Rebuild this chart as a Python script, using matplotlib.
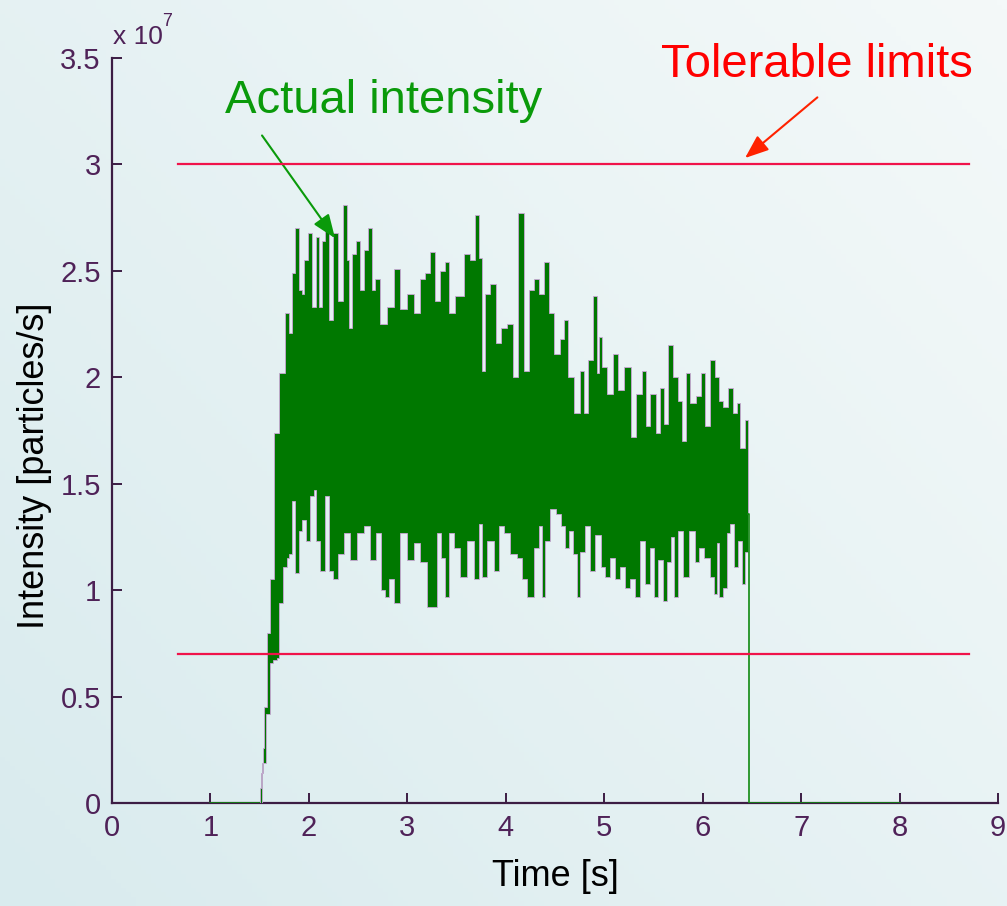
import numpy as np
import matplotlib
matplotlib.use("Agg")
import matplotlib.pyplot as plt

# intensity envelope (units of 1e7 particles/s)
t_hi = [1.494, 1.504, 1.521, 1.538, 1.555, 1.589, 1.623, 1.667, 1.728, 1.778,
        1.809, 1.839,
        1.880, 1.911, 1.941, 1.961, 2.012, 2.053, 2.083, 2.114, 2.144, 2.185,
        2.215, 2.266, 2.317, 2.368, 2.398, 2.419, 2.449, 2.500, 2.541, 2.571,
        2.622, 2.652, 2.693, 2.754, 2.825, 2.896, 2.957, 3.028, 3.100, 3.150,
        3.201, 3.252, 3.303, 3.354, 3.404, 3.435, 3.537, 3.608, 3.669, 3.709,
        3.740, 3.770, 3.811, 3.872, 3.923, 3.974, 4.045, 4.096, 4.146, 4.217,
        4.248, 4.319, 4.350, 4.421, 4.451, 4.522, 4.573, 4.604, 4.654, 4.726,
        4.776, 4.807, 4.858, 4.909, 4.939, 4.959, 4.990, 5.061, 5.112, 5.163,
        5.244, 5.295, 5.346, 5.417, 5.437, 5.498, 5.549, 5.589, 5.620, 5.681,
        5.722, 5.772, 5.813, 5.843, 5.904, 5.955, 6.006, 6.037, 6.108, 6.148,
        6.179, 6.230, 6.280, 6.331, 6.362, 6.402, 6.453, 6.465]
v_hi = [0, 0.07, 0.14, 0.26, 0.45, 0.80, 1.05, 1.74, 2.02, 2.30,
        2.21, 2.49,
        2.70, 2.41, 2.39, 2.55, 2.68, 2.33, 2.66, 2.33, 2.64, 2.69,
        2.27, 2.68, 2.36, 2.81, 2.55, 2.23, 2.58, 2.64, 2.41, 2.60,
        2.70, 2.41, 2.46, 2.25, 2.33, 2.51, 2.32, 2.39, 2.30, 2.46,
        2.49, 2.59, 2.36, 2.50, 2.54, 2.30, 2.38, 2.58, 2.55, 2.76,
        2.56, 2.03, 2.39, 2.44, 2.16, 2.23, 2.25, 2.00, 2.77, 2.03,
        2.41, 2.46, 2.39, 2.54, 2.30, 2.11, 2.18, 2.27, 2.00, 1.83,
        2.03, 1.83, 2.08, 2.38, 2.02, 2.19, 2.05, 1.92, 2.11, 1.94,
        2.05, 1.72, 1.92, 2.03, 1.77, 1.92, 1.74, 1.95, 1.78, 2.15,
        2.00, 1.89, 1.70, 2.02, 1.88, 1.91, 2.02, 1.77, 2.08, 2.00,
        1.89, 1.86, 1.95, 1.83, 1.88, 1.67, 1.80, 1.36]

t_lo = [1.504, 1.545, 1.589, 1.623, 1.657, 1.691,
        1.707, 1.758, 1.789, 1.809, 1.839,
        1.880, 1.911, 1.941, 1.992, 2.033, 2.063, 2.083, 2.134, 2.185, 2.215,
        2.266, 2.317, 2.388, 2.449, 2.520, 2.591, 2.652, 2.703, 2.754, 2.795,
        2.825, 2.896, 2.957, 3.028, 3.100, 3.161, 3.232, 3.283, 3.313, 3.364,
        3.404, 3.435, 3.506, 3.567, 3.638, 3.709, 3.740, 3.770, 3.841, 3.913,
        3.943, 4.014, 4.075, 4.146, 4.177, 4.248, 4.319, 4.350, 4.380, 4.421,
        4.482, 4.532, 4.583, 4.624, 4.654, 4.705, 4.736, 4.776, 4.827, 4.878,
        4.939, 4.990, 5.030, 5.081, 5.132, 5.183, 5.234, 5.285, 5.335, 5.386,
        5.437, 5.488, 5.518, 5.569, 5.620, 5.650, 5.701, 5.722, 5.772, 5.823,
        5.894, 5.945, 5.976, 6.047, 6.108, 6.128, 6.159, 6.179, 6.230, 6.260,
        6.301, 6.331, 6.382, 6.413, 6.453, 6.465]
v_lo = [0, 0.19, 0.42, 0.66, 0.67, 0.68,
        0.94, 1.11, 1.15, 1.17, 1.42,
        1.08, 1.28, 1.33, 1.23, 1.44, 1.47, 1.23, 1.09, 1.44, 1.09,
        1.05, 1.17, 1.27, 1.14, 1.27, 1.30, 1.14, 1.27, 1.00, 0.97,
        1.05, 0.94, 1.27, 1.14, 1.22, 1.13, 0.92, 0.92, 1.27, 1.15,
        0.97, 1.27, 1.20, 1.06, 1.23, 1.05, 1.31, 1.06, 1.23, 1.09,
        1.30, 1.27, 1.17, 1.15, 1.05, 0.97, 1.20, 1.30, 0.97, 1.23,
        1.38, 1.36, 1.30, 1.20, 1.28, 1.17, 0.97, 1.18, 1.30, 1.09,
        1.26, 1.11, 1.06, 1.15, 1.05, 1.11, 1.01, 1.05, 0.97, 1.23,
        1.03, 1.20, 0.97, 1.14, 0.95, 1.13, 1.25, 0.97, 1.28, 1.06,
        1.28, 1.13, 1.20, 1.15, 1.06, 0.98, 1.22, 0.97, 1.01, 1.27,
        1.31, 1.11, 1.23, 1.03, 1.18, 1.36]

# flat parts of the signal before and after the beam
t_before = [1.0, 1.494]
v_before = [0, 0]
t_after = [6.465, 6.47, 6.47, 8.0]
v_after = [1.36, 1.36, 0, 0]

limit_t = [0.67, 8.71]
limit_low = 0.7
limit_high = 3.0

xticks = list(range(0, 10))
yticks = [0, 0.5, 1, 1.5, 2, 2.5, 3, 3.5]
ytick_labels = ["0", "0.5", "1", "1.5", "2", "2.5", "3", "3.5"]


def steps(t, v):
    t = np.asarray(t, dtype=float)
    v = np.asarray(v, dtype=float)
    mid = (t[1:] + t[:-1]) / 2
    edges = np.concatenate([[t[0]], mid, [t[-1]]])
    xs = np.repeat(edges, 2)[1:-1]
    ys = np.repeat(v, 2)
    return xs, ys


W, H = 1007, 906
fig = plt.figure(figsize=(W / 100, H / 100), dpi=100)

# light bluish gradient background
bg = fig.add_axes([0, 0, 1, 1], zorder=-10)
gx, gy = np.meshgrid(np.linspace(0, 1, 200), np.linspace(0, 1, 200))
grad = 0.55 * gx + 0.45 * (1 - gy)
cmap = matplotlib.colors.LinearSegmentedColormap.from_list("bg", ["#d9ebee", "#f4f9f9"])
bg.imshow(grad, cmap=cmap, aspect="auto", extent=[0, 1, 0, 1], origin="upper")
bg.axis("off")

ax = fig.add_axes([0.1112, 0.1137, 0.8799, 0.8223])
ax.set_facecolor("none")

purple = "#3c1d44"
tickc = "#4f2258"
tickfont = ["Liberation Sans Narrow", "Liberation Sans"]

xu, yu = steps(t_hi, v_hi)
xl, yl = steps(t_lo, v_lo)
ax.fill(np.concatenate([xu, xl[::-1]]), np.concatenate([yu, yl[::-1]]),
        facecolor="#007800", edgecolor="#c9a6d6", linewidth=0.6, zorder=3)
ax.plot(t_before, v_before, color="#108a10", lw=1.2, zorder=3)
ax.plot(t_after, v_after, color="#108a10", lw=1.2, zorder=3)

ax.plot(limit_t, [limit_high, limit_high], color="#f0134a", lw=1.6, zorder=4)
ax.plot(limit_t, [limit_low, limit_low], color="#f0134a", lw=1.6, zorder=4)

ax.set_xlim(0, 9)
ax.set_ylim(0, 3.5)
ax.set_xticks(xticks)
ax.set_yticks(yticks)
ax.set_yticklabels(ytick_labels)
for s in ["top", "right"]:
    ax.spines[s].set_visible(False)
for s in ["left", "bottom"]:
    ax.spines[s].set_color(purple)
    ax.spines[s].set_linewidth(1.6)
ax.tick_params(direction="in", length=7, width=1.4, color=purple,
               labelcolor=tickc, labelsize=21, pad=8)
for lab in ax.get_xticklabels() + ax.get_yticklabels():
    lab.set_family(tickfont)

# exponent label above the y axis
fig.text(113 / W, 1 - 44 / H, "x 10", color=tickc, fontsize=19, family=tickfont,
         ha="left", va="baseline")
fig.text(162 / W, 1 - 26 / H, "7", color=tickc, fontsize=13, family=tickfont,
         ha="left", va="baseline")

ax.set_xlabel("Time [s]", fontsize=26, family="Liberation Sans", labelpad=12)
ax.set_ylabel("Intensity [particles/s]", fontsize=26, family="Liberation Sans")
ax.yaxis.set_label_coords(-0.068, 0.452)

ax.text(1.148, 3.30, "Actual intensity", color="#0a9a0a", fontsize=34,
        family="Liberation Sans", ha="left", va="center", clip_on=False)
ax.text(8.74, 3.465, "Tolerable limits", color="#ff0000", fontsize=34,
        family="Liberation Sans", ha="right", va="center", clip_on=False)

ax.annotate("", xy=(2.266, 2.653), xytext=(1.524, 3.136), annotation_clip=False,
            arrowprops=dict(arrowstyle="-|>,head_length=0.9,head_width=0.35",
                            color="#0a9a0a", lw=1.5, shrinkA=0, shrinkB=0,
                            mutation_scale=16))
ax.annotate("", xy=(6.43, 3.03), xytext=(7.165, 3.315), annotation_clip=False,
            arrowprops=dict(arrowstyle="-|>,head_length=0.9,head_width=0.35",
                            color="#ff2200", lw=1.5, shrinkA=0, shrinkB=0,
                            mutation_scale=16))

fig.savefig("out.png", dpi=100)
